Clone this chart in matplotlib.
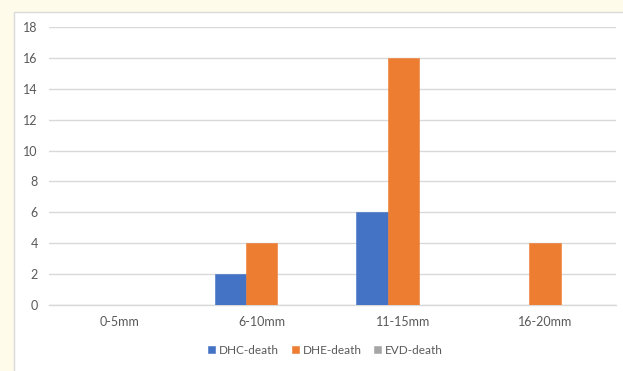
import matplotlib
matplotlib.use("Agg")
import matplotlib.pyplot as plt
from matplotlib.patches import Rectangle
import numpy as np

categories = ["0-5mm", "6-10mm", "11-15mm", "16-20mm"]
series_names = ["DHC-death", "DHE-death", "EVD-death"]
dhc_death = [0, 2, 6, 0]
dhe_death = [0, 4, 16, 4]
evd_death = [0, 0, 0, 0]
y_ticks = [0, 2, 4, 6, 8, 10, 12, 14, 16, 18]

colors = ["#4472C4", "#ED7D31", "#A5A5A5"]
text_color = "#595959"
grid_color = "#D9D9D9"

plt.rcParams["font.family"] = ["Lato", "DejaVu Sans"]

fig = plt.figure(figsize=(6.23, 3.71), dpi=100)
fig.patch.set_facecolor("#FFFBEA")

# white chart area with a thin grey frame
frame = Rectangle((14 / 623, -0.05), 1.2, 1 - 11.5 / 371 + 0.05,
                  transform=fig.transFigure, facecolor="white",
                  edgecolor="#D9D9D9", linewidth=1.0, zorder=-5)
fig.patches.append(frame)

ax = fig.add_axes([49 / 623, 1 - 305 / 371, 567 / 623, (305 - 27) / 371])
ax.set_zorder(2)
ax.set_facecolor("none")

x = np.arange(len(categories))
width = 0.221
all_series = [dhc_death, dhe_death, evd_death]
for i, (vals, name, col) in enumerate(zip(all_series, series_names, colors)):
    ax.bar(x + (i - 1) * width, vals, width, color=col, label=name,
           edgecolor=col, linewidth=0.4, zorder=3)

ax.set_xlim(-0.5, len(categories) - 0.5)
ax.set_ylim(0, 18)
ax.set_yticks(y_ticks)
ax.set_xticks(x)
ax.set_xticklabels(categories)
ax.yaxis.grid(True, color=grid_color, linewidth=1.0, zorder=0)
ax.set_axisbelow(True)
for side in ["top", "right", "left"]:
    ax.spines[side].set_visible(False)
ax.spines["bottom"].set_color(grid_color)
ax.spines["bottom"].set_linewidth(1.0)
ax.tick_params(axis="both", length=0, labelsize=9, colors=text_color)
ax.tick_params(axis="y", pad=8)
ax.tick_params(axis="x", pad=8)

leg = ax.legend(loc="center", bbox_to_anchor=(325.5 / 623, 1 - 350 / 371),
                bbox_transform=fig.transFigure, ncol=3, frameon=False,
                fontsize=8.5, handlelength=0.6, handleheight=0.6,
                handletextpad=0.3, columnspacing=1.1)
for t in leg.get_texts():
    t.set_color(text_color)

fig.savefig("out.png", dpi=100, facecolor=fig.get_facecolor())
